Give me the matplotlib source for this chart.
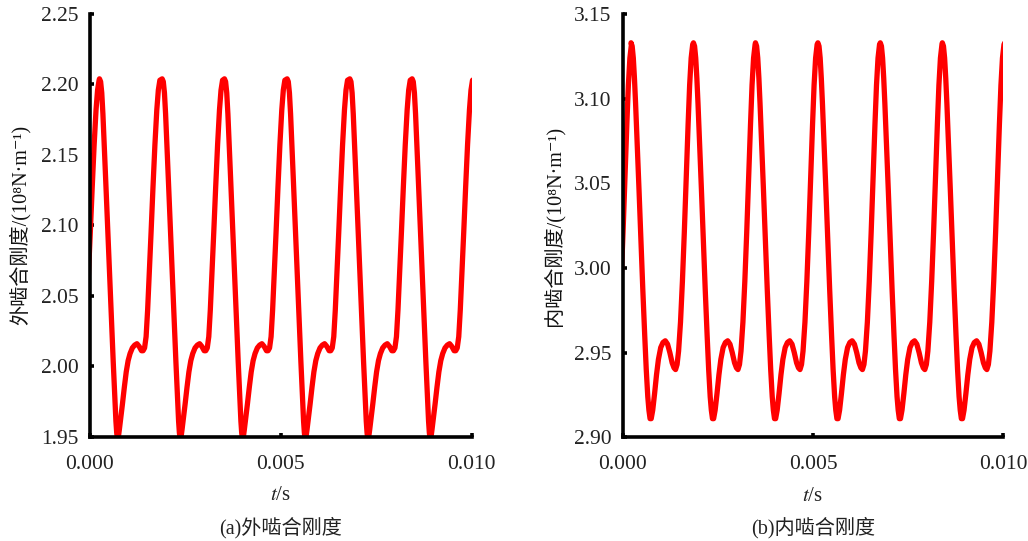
import matplotlib
matplotlib.use("Agg")
import matplotlib.pyplot as plt
import numpy as np

# one cycle: phase after a peak (units of 1e-5 s) and stiffness
left_phase = [0, 3, 6, 9, 12, 16, 21, 26, 31, 36, 40, 43, 45, 47, 49, 52, 56, 60, 65, 70, 75,
              80, 86, 92, 98, 104, 110, 114, 118, 122, 126, 130, 135, 140, 145, 150, 154, 158]
left_cycle = [2.204, 2.202, 2.194, 2.179, 2.160, 2.134, 2.101, 2.068, 2.035, 2.003, 1.978, 1.961,
              1.953, 1.948, 1.949, 1.955, 1.964, 1.973, 1.985, 1.996, 2.004, 2.009, 2.013, 2.015,
              2.016, 2.014, 2.011, 2.011, 2.013, 2.021, 2.040, 2.064, 2.095, 2.127, 2.157, 2.182,
              2.196, 2.203]
left_peaks = [-133, 26, 190, 353, 517, 681, 844, 1008]

right_phase = [0, 3, 6, 9, 12, 16, 21, 26, 31, 36, 40, 44, 47, 50, 53, 57, 62, 67, 72, 78,
               84, 90, 96, 102, 108, 113, 117, 121, 125, 130, 135, 140, 145, 150, 154, 158, 162]
right_cycle = [3.133, 3.131, 3.124, 3.112, 3.097, 3.075, 3.046, 3.016, 2.987, 2.960, 2.940, 2.924,
               2.916, 2.911, 2.911, 2.916, 2.926, 2.937, 2.946, 2.953, 2.956, 2.957, 2.955, 2.950,
               2.944, 2.941, 2.940, 2.943, 2.951, 2.968, 2.992, 3.021, 3.053, 3.085, 3.108, 3.124,
               3.132]
right_peaks = [-139, 22, 186, 349, 513, 677, 840, 1004]

left_yticks = [1.95, 2.00, 2.05, 2.10, 2.15, 2.20, 2.25]
right_yticks = [2.90, 2.95, 3.00, 3.05, 3.10, 3.15]
xticks = [0.000, 0.005, 0.010]

left_ylabel = "外啮合刚度/(10⁸N·m⁻¹)"
right_ylabel = "内啮合刚度/(10⁸N·m⁻¹)"
left_title = "(a)外啮合刚度"
right_title = "(b)内啮合刚度"

plt.rcParams["mathtext.fontset"] = "stix"
fams = ["Liberation Serif", "Noto Sans CJK SC", "DejaVu Serif"]


def series(peaks, phase, cycle):
    t = np.concatenate([(p + np.array(phase)) * 1e-5 for p in peaks])
    k = np.tile(cycle, len(peaks))
    return t, k


fig = plt.figure(figsize=(10.28, 5.41), dpi=100)
ax1 = fig.add_axes([0.0871, 0.1928, 0.3718, 0.7813])
ax2 = fig.add_axes([0.6057, 0.1917, 0.3702, 0.7824])

panels = [
    (ax1, left_peaks, left_phase, left_cycle, left_yticks, left_ylabel, left_title),
    (ax2, right_peaks, right_phase, right_cycle, right_yticks, right_ylabel, right_title),
]

for ax, peaks, phase, cycle, yt, ylab, ttl in panels:
    t, k = series(peaks, phase, cycle)
    ax.plot(t, k, color="#ff0000", lw=3.8, solid_joinstyle="round", solid_capstyle="butt")
    ax.set_xlim(0, 0.010)
    ax.set_ylim(yt[0], yt[-1])
    ax.set_xticks(xticks)
    ax.set_xticklabels(["%.3f" % v for v in xticks])
    ax.set_yticks(yt)
    ax.set_yticklabels(["%.2f" % v for v in yt])
    for s in ["top", "right"]:
        ax.spines[s].set_visible(False)
    for s in ["left", "bottom"]:
        ax.spines[s].set_linewidth(2.6)
        ax.spines[s].set_color("black")
    ax.tick_params(direction="in", length=3, width=2.6, color="black", pad=8,
                   labelsize=15.5, labelcolor="#222222")
    ax.tick_params(axis="x", pad=13)
    for lab in ax.get_xticklabels() + ax.get_yticklabels():
        lab.set_family("Liberation Serif")
    ax.set_ylabel(ylab, family=fams, fontsize=14.5, color="#111111", labelpad=7)
    ax.set_xlabel("$t$/s", family="Liberation Serif", fontsize=15, color="#222222", labelpad=9)
    box = ax.get_position()
    fig.text((box.x0 + box.x1) / 2, 1 - 528 / 541, ttl, family=fams, fontsize=14.5,
             color="#222222", ha="center", va="center")

fig.savefig("out.png", dpi=100)
